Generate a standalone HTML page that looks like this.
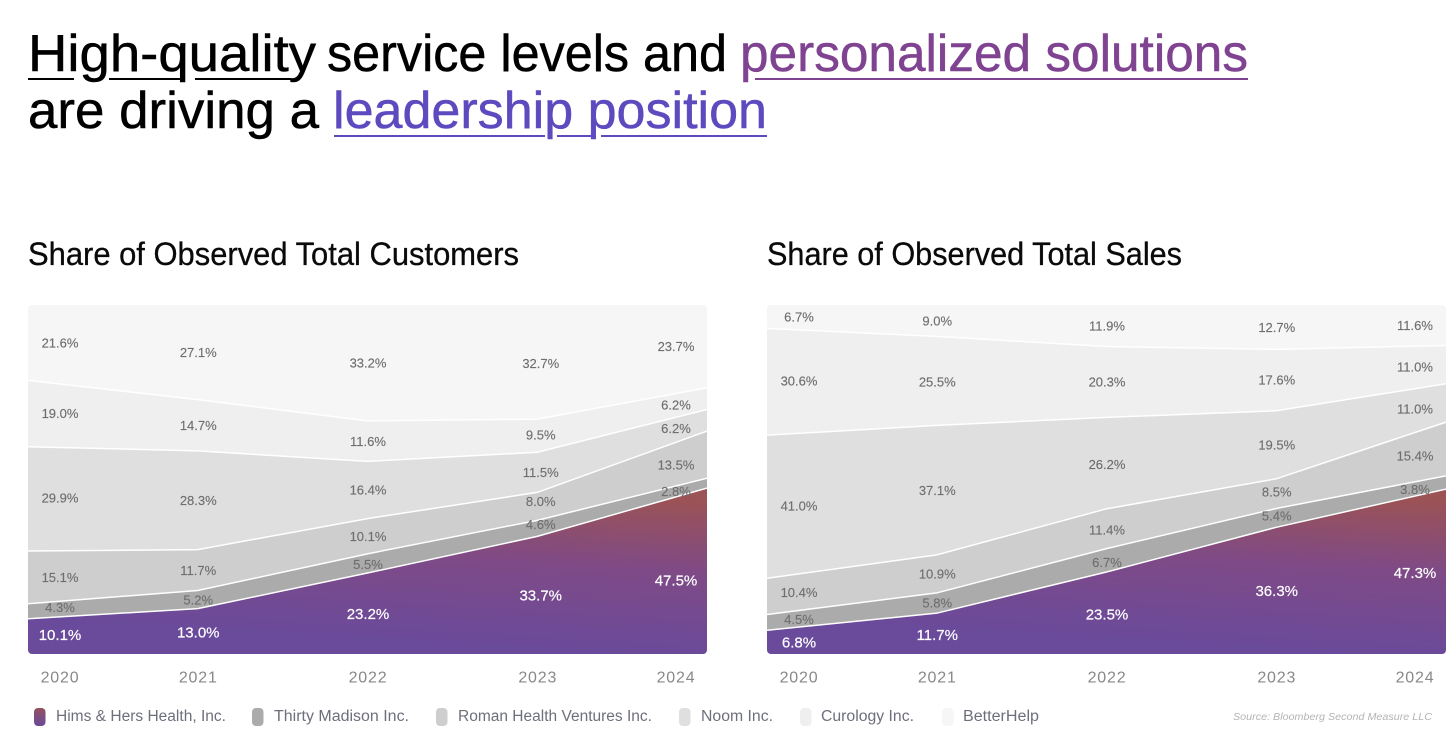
<!DOCTYPE html>
<html lang="en">
<head>
<meta charset="utf-8">
<title>High-quality service levels and personalized solutions</title>
<style>
html,body{margin:0;padding:0;background:#fff;width:1456px;height:740px;overflow:hidden}
svg{display:block}
text{font-family:"Liberation Sans",Arial,sans-serif}
</style>
</head>
<body>
<svg id="page" xmlns="http://www.w3.org/2000/svg" width="1456" height="740" viewBox="0 0 1456 740">
  <defs>
    <linearGradient id="himsLeft" gradientUnits="userSpaceOnUse" x1="380" y1="480" x2="370" y2="640">
      <stop offset="0" stop-color="#9c5355"/>
      <stop offset="0.45" stop-color="#7f4a86"/>
      <stop offset="1" stop-color="#6a4a9b"/>
    </linearGradient>
    <linearGradient id="himsRight" gradientUnits="userSpaceOnUse" x1="1119" y1="480" x2="1109" y2="640">
      <stop offset="0" stop-color="#9c5355"/>
      <stop offset="0.45" stop-color="#7f4a86"/>
      <stop offset="1" stop-color="#6a4a9b"/>
    </linearGradient>
    <linearGradient id="himsSwatch" x1="0" y1="0" x2="0" y2="1">
      <stop offset="0" stop-color="#94505f"/>
      <stop offset="1" stop-color="#6a4a9b"/>
    </linearGradient>
  </defs>

  <g font-size="52" stroke-width="0.5">
    <text x="28" y="71" textLength="288" lengthAdjust="spacingAndGlyphs" fill="#000" stroke="#000">High-quality</text>
    <text x="327" y="71" textLength="400" lengthAdjust="spacingAndGlyphs" fill="#000" stroke="#000">service levels and</text>
    <text x="740" y="71" textLength="508" lengthAdjust="spacingAndGlyphs" fill="#7f4391" stroke="#7f4391">personalized solutions</text>
    <text x="28" y="128" textLength="291" lengthAdjust="spacingAndGlyphs" fill="#000" stroke="#000">are driving a</text>
    <text x="333" y="128" textLength="434" lengthAdjust="spacingAndGlyphs" fill="#5e4abf" stroke="#5e4abf">leadership position</text>
    <g fill="#000">
      <rect x="28" y="78" width="46" height="2"/>
      <rect x="109" y="78" width="71" height="2"/>
      <rect x="195" y="78" width="96" height="2"/>
    </g>
    <rect x="755" y="78" width="493" height="2" fill="#7f4391"/>
    <g fill="#5e4abf">
      <rect x="334" y="135" width="211" height="2"/>
      <rect x="557" y="135" width="34" height="2"/>
      <rect x="601" y="135" width="166" height="2"/>
    </g>
  </g>

  <text x="28" y="265" font-size="32" textLength="491" lengthAdjust="spacingAndGlyphs" fill="#0a0a0a" stroke="#0a0a0a" stroke-width="0.3">Share of Observed Total Customers</text>
  <text x="767" y="265" font-size="32" textLength="415" lengthAdjust="spacingAndGlyphs" fill="#0a0a0a" stroke="#0a0a0a" stroke-width="0.3">Share of Observed Total Sales</text>

  <g id="chartCustomers"></g>
  <g id="chartSales"></g>

  <g font-size="15.5" fill="#6e6f7c">
    <g>
      <rect x="34" y="708" width="11.5" height="18" rx="4" fill="url(#himsSwatch)"/>
      <text x="56" y="721" textLength="170" lengthAdjust="spacingAndGlyphs">Hims &amp; Hers Health, Inc.</text>
    </g>
    <g>
      <rect x="252" y="708" width="11.5" height="18" rx="4" fill="#ababab"/>
      <text x="274" y="721" textLength="135" lengthAdjust="spacingAndGlyphs">Thirty Madison Inc.</text>
    </g>
    <g>
      <rect x="436" y="708" width="11.5" height="18" rx="4" fill="#cecece"/>
      <text x="458" y="721" textLength="194" lengthAdjust="spacingAndGlyphs">Roman Health Ventures Inc.</text>
    </g>
    <g>
      <rect x="679" y="708" width="11.5" height="18" rx="4" fill="#dfdfdf"/>
      <text x="701" y="721" textLength="72" lengthAdjust="spacingAndGlyphs">Noom Inc.</text>
    </g>
    <g>
      <rect x="800" y="708" width="11.5" height="18" rx="4" fill="#efefef"/>
      <text x="821" y="721" textLength="93" lengthAdjust="spacingAndGlyphs">Curology Inc.</text>
    </g>
    <g>
      <rect x="942" y="708" width="11.5" height="18" rx="4" fill="#f6f6f6"/>
      <text x="963" y="721" textLength="76" lengthAdjust="spacingAndGlyphs">BetterHelp</text>
    </g>
  </g>
  <text x="1233" y="720" font-size="10.5" font-style="italic" textLength="199" lengthAdjust="spacingAndGlyphs" fill="#b4b4b4">Source: Bloomberg Second Measure LLC</text>
</svg>

<script>
const years = ['2020', '2021', '2022', '2023', '2024'];

const customersHims = [10.1, 13.0, 23.2, 33.7, 47.5];
const customersThirty = [4.3, 5.2, 5.5, 4.6, 2.8];
const customersRoman = [15.1, 11.7, 10.1, 8.0, 13.5];
const customersNoom = [29.9, 28.3, 16.4, 11.5, 6.2];
const customersCurology = [19.0, 14.7, 11.6, 9.5, 6.2];
const customersBetterHelp = [21.6, 27.1, 33.2, 32.7, 23.7];

const salesHims = [6.8, 11.7, 23.5, 36.3, 47.3];
const salesThirty = [4.5, 5.8, 6.7, 5.4, 3.8];
const salesRoman = [10.4, 10.9, 11.4, 8.5, 15.4];
const salesNoom = [41.0, 37.1, 26.2, 19.5, 11.0];
const salesCurology = [30.6, 25.5, 20.3, 17.6, 11.0];
const salesBetterHelp = [6.7, 9.0, 11.9, 12.7, 11.6];

const SVG_NS = 'http://www.w3.org/2000/svg';
const seriesKeys = ['hims', 'thirty-madison', 'roman', 'noom', 'curology', 'betterhelp'];
const plotTop = 305;
const plotBottom = 654;

function buildChart(group, x0, x1, seriesList, gradientId, nudges, valueShiftX) {
  const fills = ['url(#' + gradientId + ')', '#ababab', '#cecece', '#dfdfdf', '#efefef', '#f6f6f6'];
  const prefix = gradientId === 'himsLeft' ? 'customers' : 'sales';
  const clipId = prefix + 'Clip';

  function xScale(i) {
    return x0 + i * (x1 - x0) / (years.length - 1);
  }
  function yScale(share) {
    return plotBottom - share / 100 * (plotBottom - plotTop);
  }
  function labelX(i) {
    return Math.min(x1 - 31, Math.max(x0 + 32, xScale(i) + (i > 0 ? 0.5 : 0)));
  }

  const clip = document.createElementNS(SVG_NS, 'clipPath');
  clip.setAttribute('id', clipId);
  const clipRect = document.createElementNS(SVG_NS, 'rect');
  clipRect.setAttribute('x', x0);
  clipRect.setAttribute('y', plotTop);
  clipRect.setAttribute('width', x1 - x0);
  clipRect.setAttribute('height', plotBottom - plotTop);
  clipRect.setAttribute('rx', 4);
  clip.appendChild(clipRect);
  group.appendChild(clip);

  const marks = document.createElementNS(SVG_NS, 'g');
  marks.setAttribute('clip-path', 'url(#' + clipId + ')');
  
  
  group.appendChild(marks);

  const totals = years.map(function (_, i) {
    return seriesList.reduce(function (sum, s) { return sum + s[i]; }, 0);
  });
  let lower = years.map(function () { return 0; });
  const middles = [];

  seriesList.forEach(function (values, s) {
    const upper = values.map(function (v, i) { return lower[i] + v / totals[i] * 100; });
    const topEdge = upper.map(function (u, i) { return xScale(i) + ',' + yScale(s === seriesList.length - 1 ? 100 : u); });
    const bottomEdge = lower.map(function (l, i) { return xScale(i) + ',' + yScale(l); }).reverse();

    const area = document.createElementNS(SVG_NS, 'polygon');
    area.setAttribute('points', topEdge.concat(bottomEdge).join(' '));
    area.setAttribute('fill', fills[s]);
    
    
    marks.appendChild(area);

    middles.push(upper.map(function (u, i) { return (u + lower[i]) / 2; }));
    lower = upper;
  });

  let boundary = years.map(function () { return 0; });
  seriesList.slice(0, -1).forEach(function (values, s) {
    boundary = boundary.map(function (b, i) { return b + values[i] / totals[i] * 100; });
    const line = document.createElementNS(SVG_NS, 'polyline');
    line.setAttribute('points', boundary.map(function (b, i) { return xScale(i) + ',' + yScale(b); }).join(' '));
    line.setAttribute('fill', 'none');
    line.setAttribute('stroke', '#ffffff');
    line.setAttribute('stroke-width', '1.5');
    
    
    marks.appendChild(line);
  });

  seriesList.forEach(function (values, s) {
    values.forEach(function (v, i) {
      const label = document.createElementNS(SVG_NS, 'text');
      const isHims = s === 0;
      label.setAttribute('x', labelX(i) + valueShiftX[i]);
      label.setAttribute('y', yScale(middles[s][i]) + nudges[s][i] + (isHims ? 5.4 : 4.7));
      label.setAttribute('text-anchor', 'middle');
      label.setAttribute('font-size', isHims ? 15 : 13);
      label.setAttribute('fill', isHims ? '#ffffff' : '#6f6f6f');
      label.setAttribute('stroke', isHims ? '#ffffff' : '#6f6f6f');
      label.setAttribute('stroke-width', isHims ? '0.2' : '0.15');
      
      
      label.textContent = v.toFixed(1) + '%';
      group.appendChild(label);
    });
  });

  years.forEach(function (year, i) {
    const tick = document.createElementNS(SVG_NS, 'text');
    tick.setAttribute('x', labelX(i));
    tick.setAttribute('y', 682.5);
    tick.setAttribute('text-anchor', 'middle');
    tick.setAttribute('font-size', 16);
    tick.setAttribute('letter-spacing', '0.8');
    tick.setAttribute('fill', '#888888');
    
    
    tick.textContent = year;
    group.appendChild(tick);
  });
}

const customersNudges = [
  [-2, 1, 0, 0, 9],
  [-4, 0, 1, -4, 8],
  [0, 0, 0, -5, 10],
  [-1, 0, 0, 0, 8],
  [0, 0, 0, -1, 6],
  [0, 0, 0, 1, 0]
];
const salesNudges = [
  [0, 1, 1, 0, 1],
  [-3, 0, 2, -2, 7],
  [-4, 0, 1, -2, 7],
  [-1, 0, 1, 0, 6],
  [-1, 1, 0, 0, 2],
  [0, 0, 0, 0, 0]
];

buildChart(document.getElementById('chartCustomers'), 28, 707,
  [customersHims, customersThirty, customersRoman, customersNoom, customersCurology, customersBetterHelp],
  'himsLeft', customersNudges, [0, 0, 0, 3, 0]);
buildChart(document.getElementById('chartSales'), 767, 1446,
  [salesHims, salesThirty, salesRoman, salesNoom, salesCurology, salesBetterHelp],
  'himsRight', salesNudges, [0, 0, 0, 0, 0]);
</script>
</body>
</html>
